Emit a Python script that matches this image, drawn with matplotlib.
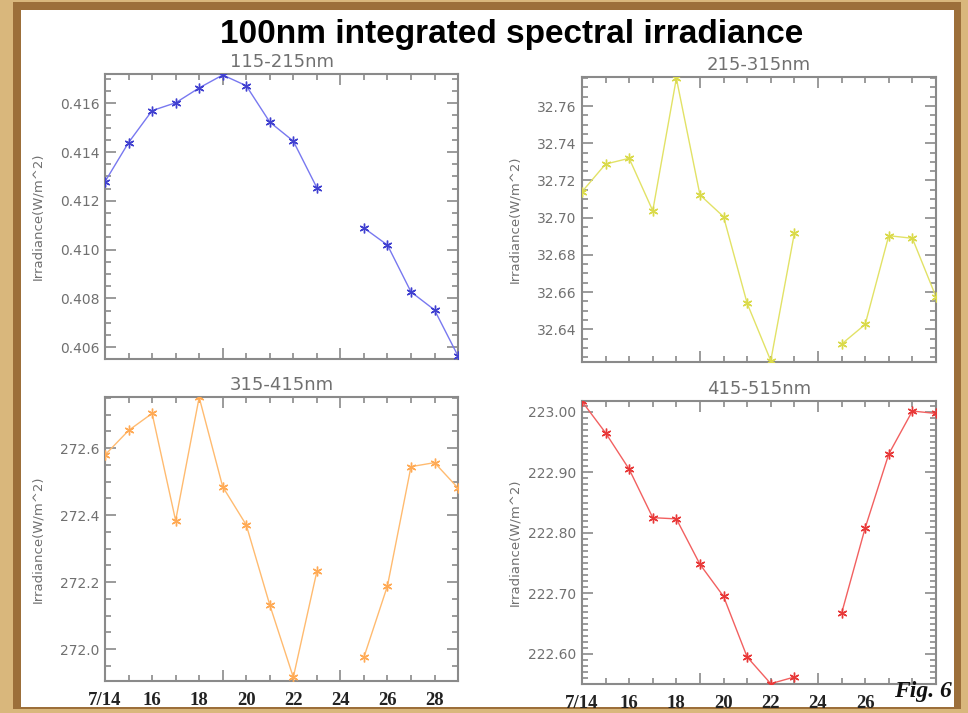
import numpy as np
import matplotlib
matplotlib.use("Agg")
import matplotlib.pyplot as plt
from matplotlib.patches import Rectangle
from matplotlib.ticker import MultipleLocator, FixedLocator, FormatStrFormatter, AutoMinorLocator
import matplotlib.transforms as mtransforms

# July days; no measurement on the 24th
days = np.arange(14, 30)

irr_115_215 = [0.41279, 0.41439, 0.41570, 0.41602, 0.41663, 0.41716, 0.41672, 0.41523,
               0.41445, 0.41254, np.nan, 0.41089, 0.41019, 0.40827, 0.40753, 0.40564]
irr_215_315 = [32.7139, 32.7288, 32.7319, 32.7037, 32.7749, 32.7122, 32.7005, 32.6539,
               32.6231, 32.6916, np.nan, 32.6320, 32.6426, 32.6903, 32.6889, 32.6575]
irr_315_415 = [272.580, 272.653, 272.704, 272.384, 272.752, 272.485, 272.371, 272.132,
               271.916, 272.232, np.nan, 271.976, 272.189, 272.545, 272.557, 272.481]
irr_415_515 = [223.017, 222.965, 222.905, 222.825, 222.823, 222.748, 222.695, 222.595,
               222.551, 222.562, np.nan, 222.667, 222.808, 222.930, 223.001, 222.997]

band_names = ["115-215nm", "215-315nm", "315-415nm", "415-515nm"]
date_labels = ["7/14", "16", "18", "20", "22", "24", "26", "28"]
date_pos = [14, 16, 18, 20, 22, 24, 26, 28]

panels = [
    # data, line colour, marker colour, y-limits, major step, minor count, format, axes rect
    (irr_115_215, "#7878f0", "#4040d0", (0.40552, 0.41720), 0.002, 4, "%.3f",
     [0.1085, 0.4965, 0.3647, 0.3997]),
    (irr_215_315, "#e2e266", "#dada4a", (32.6224, 32.7756), 0.02, 4, "%.2f",
     [0.6012, 0.4923, 0.3657, 0.3997]),
    (irr_315_415, "#ffbb70", "#ffaa55", (271.905, 272.753), 0.2, 4, "%.1f",
     [0.1085, 0.0449, 0.3647, 0.3983]),
    (irr_415_515, "#f26060", "#e83838", (222.5505, 223.0177), 0.1, 10, "%.2f",
     [0.6012, 0.0407, 0.3657, 0.3970]),
]

fig = plt.figure(figsize=(9.68, 7.13), dpi=100)
fig.patch.set_facecolor("#d9b77c")

# wooden frame: dark inner moulding, then the white sheet (kept behind the axes)
fig.patches.append(Rectangle((13 / 968, 4 / 713), 948 / 968, 707 / 713,
                             transform=fig.transFigure, facecolor="#9c6f3a",
                             edgecolor="none", zorder=-2))
fig.patches.append(Rectangle((21 / 968, 6 / 713), 933 / 968, 697 / 713,
                             transform=fig.transFigure, facecolor="white",
                             edgecolor="none", zorder=-1))

grey = "#707070"
for i, (vals, lc, mc, ylim, step, nminor, fmt, rect) in enumerate(panels):
    ax = fig.add_axes(rect)
    ax.plot(days, vals, color=lc, lw=1.0, zorder=2)
    ax.plot(days, vals, ls="none", marker=(6, 2, 0), ms=7, mew=1.0, color=mc, zorder=3)
    ax.set_xlim(14, 29)
    ax.set_ylim(*ylim)

    ax.xaxis.set_major_locator(FixedLocator([14, 19, 24, 29]))
    ax.xaxis.set_minor_locator(MultipleLocator(1))
    ax.xaxis.set_major_formatter(plt.NullFormatter())
    ax.yaxis.set_major_locator(MultipleLocator(step))
    ax.yaxis.set_minor_locator(AutoMinorLocator(nminor))
    ax.yaxis.set_major_formatter(FormatStrFormatter(fmt))

    ax.tick_params(which="both", direction="in", top=True, right=True,
                   color="#8a8a8a", width=1.2)
    ax.tick_params(which="major", length=8, labelsize=10, labelcolor=grey, pad=4)
    ax.tick_params(which="minor", length=4)
    for sp in ax.spines.values():
        sp.set_color("#8a8a8a")
        sp.set_linewidth(1.5)

    ax.set_title(band_names[i], fontsize=13, color=grey, pad=5)
    ax.set_ylabel("Irradiance(W/m^2)", fontsize=9.5, color=grey)
    ax.yaxis.set_label_coords(-0.172, 0.5)

    # date labels along the bottom row; the last one on the right is covered by the figure tag
    if i >= 2:
        n_lab = len(date_pos) if i == 2 else len(date_pos) - 1
        trans = mtransforms.blended_transform_factory(ax.transData, ax.transAxes)
        for x, lab in zip(date_pos[:n_lab], date_labels[:n_lab]):
            ax.text(x, -0.07, lab, transform=trans, ha="center", va="center",
                    fontsize=13.5, fontweight="bold", family="Liberation Serif",
                    color="#222222", clip_on=False)

fig.text(0.529, 0.951, "100nm integrated spectral irradiance", ha="center", va="center",
         fontsize=24, fontweight="bold", family="Liberation Sans", color="black")
fig.text(0.9835, 0.030, "Fig. 6", ha="right", va="center", fontsize=17,
         fontweight="bold", fontstyle="italic", family="Liberation Serif", color="#111111")

fig.savefig("out.png", dpi=100, facecolor=fig.get_facecolor())
